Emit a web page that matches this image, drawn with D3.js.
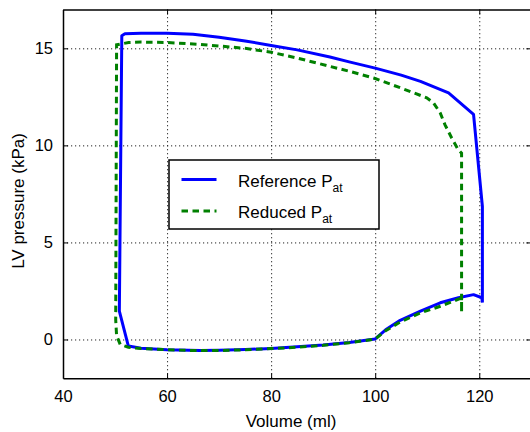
<!DOCTYPE html>
<html>
<head>
<meta charset="utf-8">
<script src="https://cdn.jsdelivr.net/npm/d3@7"></script>
<style>
  html, body { margin: 0; padding: 0; background: #fff; }
  svg { display: block; font-family: "Liberation Sans", Arial, Helvetica, sans-serif; }
</style>
</head>
<body>
<svg id="chart" width="530" height="432"></svg>
<script>
// ---- data ----
const refVolume = [120.6,120.6,118.9,114.1,108.7,105,100,95,91.3,85,80,75,70,65,60,55,51.9,51.3,50.83,52.56,55,60,66.3,70,75,80,85,90,95,100,102,104.8,108.7,112.5,116,118.9,120.5,120.6];
const refPressure = [1.9,6.85,11.6,12.7,13.3,13.62,13.98,14.3,14.55,14.92,15.15,15.38,15.57,15.72,15.78,15.78,15.75,15.65,1.46,-0.34,-0.45,-0.53,-0.57,-0.56,-0.52,-0.46,-0.38,-0.28,-0.15,0.03,0.5,0.99,1.46,1.89,2.15,2.31,2.15,1.9];

const redVolume = [116.6,116.6,115.9,114.7,113.4,112.5,111.2,109.9,105,99.7,95,91.3,85,80,75,70,66.3,60,55,52.6,50.3,50.13,50.3,51,52.56,55,60,65,70,75,80,85,90,95,100,102,104.8,108.7,112.5,116.6,116.6];
const redPressure = [1.45,9.6,9.8,10.38,11.07,11.67,12.19,12.45,12.95,13.47,13.82,14.07,14.5,14.8,15.0,15.12,15.2,15.3,15.32,15.3,15.18,1.0,0.2,-0.26,-0.4,-0.47,-0.53,-0.57,-0.57,-0.53,-0.47,-0.4,-0.3,-0.17,0.02,0.45,0.9,1.37,1.71,2.14,1.45];

const xTicks = [40, 60, 80, 100, 120];
const yTicks = [0, 5, 10, 15];
const seriesNames = ["Reference", "Reduced"];

// ---- layout ----
const svg = d3.select("#chart");
const pLeft = 63, pRight = 531.3, pTop = 9.5, pBottom = 378.3;
const x = d3.scaleLinear().domain([40, 130]).range([pLeft, pRight]);
const y = d3.scaleLinear().domain([-2, 17]).range([pBottom, pTop]);
const crisp = v => Math.round(v) + 0.5;

// grid (dotted, drawn through the axis generator so positions come from the scales)
const gridX = d3.axisBottom(x).tickValues(xTicks.filter(t => t > 40)).tickSize(-(pBottom - pTop)).tickFormat("");
const gGridX = svg.append("g").attr("class", "grid").attr("transform", `translate(0,${pBottom})`).call(gridX);
const gridY = d3.axisLeft(y).tickValues(yTicks).tickSize(-(pRight - pLeft)).tickFormat("");
const gGridY = svg.append("g").attr("class", "grid").attr("transform", `translate(${pLeft},0)`).call(gridY);
svg.selectAll(".grid .domain").remove();
svg.selectAll(".grid .tick line")
  .attr("stroke", "#222").attr("stroke-width", 1).attr("stroke-dasharray", "1.2,2.8");

// axes
const fontSize = 16.5;
const xAxis = d3.axisBottom(x).tickValues(xTicks).tickSizeInner(-5).tickSizeOuter(0).tickPadding(12);
const gx = svg.append("g").attr("class", "ax").attr("transform", `translate(0,${pBottom})`).call(xAxis);
const yAxis = d3.axisLeft(y).tickValues(yTicks).tickSizeInner(-5).tickSizeOuter(0).tickPadding(10);
const gy = svg.append("g").attr("class", "ax").attr("transform", `translate(${pLeft},0)`).call(yAxis);
const xTop = d3.axisTop(x).tickValues(xTicks).tickSizeInner(-5).tickSizeOuter(0).tickFormat("");
svg.append("g").attr("class", "ax").attr("transform", `translate(0,${pTop})`).call(xTop);
const yRight = d3.axisRight(y).tickValues(yTicks).tickSizeInner(-5).tickSizeOuter(0).tickFormat("");
svg.append("g").attr("class", "ax").attr("transform", `translate(${pRight},0)`).call(yRight);
svg.selectAll(".ax .domain").attr("stroke", "#000").attr("stroke-width", 1.5);
svg.selectAll(".ax .tick line").attr("stroke", "#000").attr("stroke-width", 1);
svg.selectAll(".ax .tick text").attr("font-size", fontSize).attr("fill", "#000")
   .attr("font-family", "'Liberation Sans', Arial, sans-serif");

// lines
const line = d3.line().x(d => x(d[0])).y(d => y(d[1]));
const refData = refVolume.map((v, i) => [v, refPressure[i]]);
const redData = redVolume.map((v, i) => [v, redPressure[i]]);

svg.append("path").datum(refData).attr("d", line)
  .attr("fill", "none").attr("stroke", "#0000ff").attr("stroke-width", 3).attr("stroke-linejoin", "round");
svg.append("path").datum(redData).attr("d", line)
  .attr("fill", "none").attr("stroke", "#008000").attr("stroke-width", 3).attr("stroke-dasharray", "6.5,4.5");

// labels
svg.append("text").attr("x", 291).attr("y", 427).attr("text-anchor", "middle")
  .attr("font-size", 17).text("Volume (ml)");
svg.append("text").attr("transform", "translate(24,201) rotate(-90)").attr("text-anchor", "middle")
  .attr("font-size", 17).text("LV pressure (kPa)");

// legend
const lg = svg.append("g");
lg.append("rect").attr("x", 169).attr("y", 160).attr("width", 210).attr("height", 69)
  .attr("fill", "#fff").attr("stroke", "#000").attr("stroke-width", 1.5);
const legendItems = [
  {name: seriesNames[0], color: "#0000ff", dash: null, yy: 179.5},
  {name: seriesNames[1], color: "#008000", dash: "6.5,4.5", yy: 211}
];
legendItems.forEach(it => {
  const l = lg.append("line").attr("x1", 181.5).attr("x2", 216.5).attr("y1", it.yy).attr("y2", it.yy)
    .attr("stroke", it.color).attr("stroke-width", 3);
  if (it.dash) l.attr("stroke-dasharray", it.dash);
  const t = lg.append("text").attr("x", 238).attr("y", it.yy + 7).attr("font-size", 17);
  t.append("tspan").text(it.name + " P");
  t.append("tspan").attr("font-size", 12).attr("dy", 5).text("at");
});
</script>
</body>
</html>
